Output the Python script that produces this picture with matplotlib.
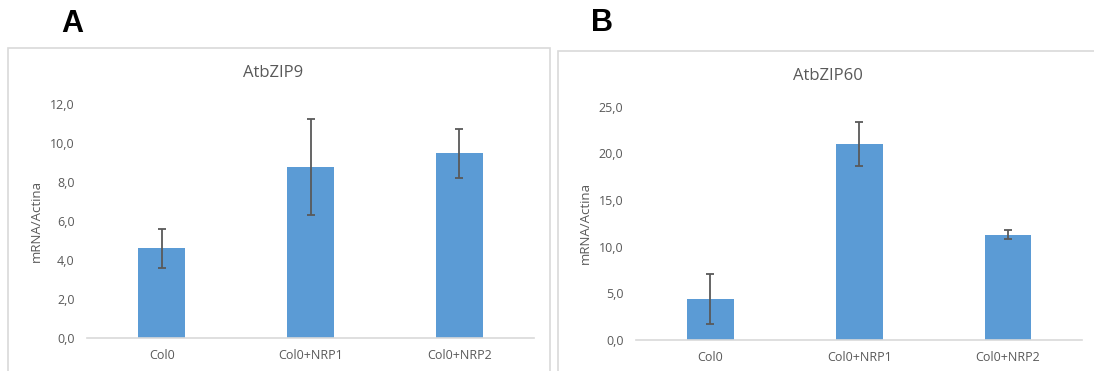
import matplotlib
matplotlib.use("Agg")
import matplotlib.pyplot as plt
from matplotlib.patches import Rectangle
from matplotlib.ticker import FuncFormatter

categories = ["Col0", "Col0+NRP1", "Col0+NRP2"]

# panel A - AtbZIP9
zip9_values = [4.6, 8.75, 9.47]
zip9_errors = [1.0, 2.47, 1.25]

# panel B - AtbZIP60
zip60_values = [4.36, 21.0, 11.28]
zip60_errors = [2.68, 2.37, 0.5]

BAR_COLOR = "#5B9BD5"
TEXT_COLOR = "#595959"
LINE_COLOR = "#D9D9D9"

W, H = 1094, 371
plt.rcParams["font.family"] = ["Open Sans", "DejaVu Sans"]

fig = plt.figure(figsize=(W / 100, H / 100), dpi=100)


def px_rect(x0, x1, y_top, y_bot):
    # pixel coords -> figure fraction
    return [x0 / W, 1 - y_bot / H, (x1 - x0) / W, (y_bot - y_top) / H]


def comma_fmt(v, pos):
    return "{:.1f}".format(v).replace(".", ",")


def draw_panel(rect, values, errors, ymax, step, title, title_x, title_y):
    ax = fig.add_axes(rect)
    x = range(len(categories))
    ax.bar(x, values, width=0.314, color=BAR_COLOR, zorder=2)
    ax.errorbar(x, values, yerr=errors, fmt="none", ecolor=TEXT_COLOR,
                elinewidth=1.3, capsize=3, capthick=1.3, zorder=3)
    ax.set_xlim(-0.5, len(categories) - 0.5)
    ax.set_ylim(0, ymax)
    ax.set_yticks([i * step for i in range(int(round(ymax / step)) + 1)])
    ax.yaxis.set_major_formatter(FuncFormatter(comma_fmt))
    ax.set_xticks(list(x))
    ax.set_xticklabels(categories)
    for s in ["top", "right", "left"]:
        ax.spines[s].set_visible(False)
    ax.spines["bottom"].set_color(LINE_COLOR)
    ax.spines["bottom"].set_linewidth(1.2)
    ax.tick_params(axis="both", length=0, colors=TEXT_COLOR, labelsize=9)
    ax.tick_params(axis="y", pad=9)
    ax.tick_params(axis="x", pad=8)
    ax.set_ylabel("mRNA/Actina", color=TEXT_COLOR, fontsize=9.5, labelpad=5)
    fig.text(title_x / W, 1 - title_y / H, title, ha="center", va="center",
             color=TEXT_COLOR, fontsize=12)
    return ax


# chart frames
fig.patches.append(Rectangle((8 / W, -0.1), (550 - 8) / W, 0.1 + 1 - 47.5 / H,
                             transform=fig.transFigure, fill=False,
                             edgecolor=LINE_COLOR, linewidth=1.2))
fig.patches.append(Rectangle((557.5 / W, -0.1), 0.5, 0.1 + 1 - 50.5 / H,
                             transform=fig.transFigure, fill=False,
                             edgecolor=LINE_COLOR, linewidth=1.2))

draw_panel(px_rect(87.3, 533.7, 104, 337.7), zip9_values, zip9_errors,
           12, 2, "AtbZIP9", 273, 73)
draw_panel(px_rect(635.9, 1082.4, 106.7, 340), zip60_values, zip60_errors,
           25, 5, "AtbZIP60", 828, 76)

fig.text(72.5 / W, 1 - 23.5 / H, "A", ha="center", va="center",
         fontsize=22, fontweight="bold", family="Liberation Sans")
fig.text(602 / W, 1 - 23 / H, "B", ha="center", va="center",
         fontsize=22, fontweight="bold", family="Liberation Sans")

fig.savefig("out.png", dpi=100)
